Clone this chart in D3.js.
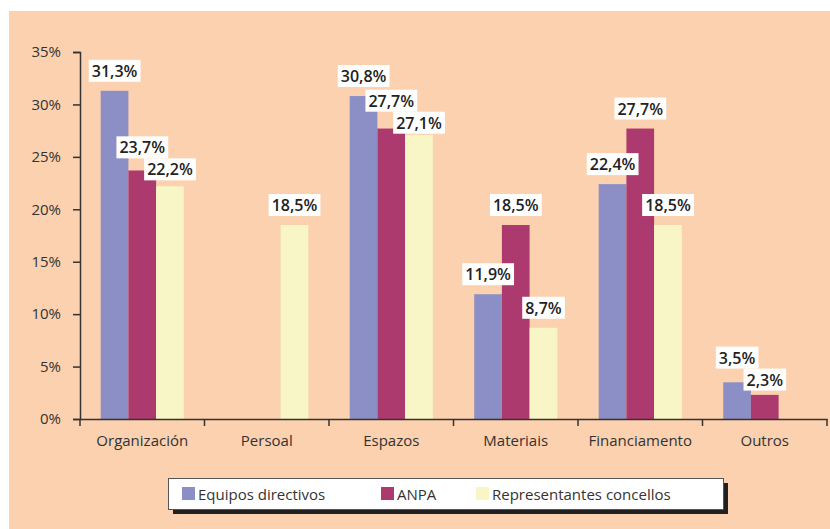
<html>
  <head>
    <meta charset="utf-8" />
    <script src="https://d3js.org/d3.v7.min.js"></script>
    <style>
      body { margin: 0; background: #fff; }
      text { font-family: "Open Sans", "Noto Sans", sans-serif; }
    </style>
  </head>
  <body>
    <svg width="830" height="529" id="chart"></svg>
    <script>
      // data
      const categories = ["Organización", "Persoal", "Espazos", "Materiais", "Financiamento", "Outros"];
      const seriesNames = ["Equipos directivos", "ANPA", "Representantes concellos"];
      const equipos = [31.3, null, 30.8, 11.9, 22.4, 3.5];
      const anpa = [23.7, null, 27.7, 18.5, 27.7, 2.3];
      const concellos = [22.2, 18.5, 27.1, 8.7, 18.5, null];
      const yTicks = [0, 5, 10, 15, 20, 25, 30, 35];
      const colors = ["#8c8fc5", "#ad3a6e", "#f8f5c7"];

      const series = [equipos, anpa, concellos];

      const svg = d3.select("svg#chart");

      // peach background
      svg.append("rect")
        .attr("x", 9).attr("y", 11)
        .attr("width", 821).attr("height", 518)
        .attr("fill", "#fbd1af");

      const plotLeft = 80, plotRight = 827, plotTop = 52, plotBottom = 419;

      const xScale = d3.scaleBand().domain(categories).range([plotLeft, plotRight]);
      const barW = 27.7;
      const xInner = d3.scaleBand()
        .domain(d3.range(series.length))
        .range([0, xScale.bandwidth()])
        .paddingInner(0)
        .paddingOuter((xScale.bandwidth() - 3 * barW) / 2 / barW);
      const yScale = d3.scaleLinear().domain([0, 35]).range([plotBottom, plotTop]);

      // bars
      const bars = [];
      series.forEach((vals, s) => {
        vals.forEach((v, i) => {
          if (v == null) return;
          bars.push({ s: s, cat: categories[i], v: v });
        });
      });

      svg.append("g")
        .selectAll("rect")
        .data(bars)
        .join("rect")
        .attr("x", (d) => xScale(d.cat) + xInner(d.s))
        .attr("y", (d) => yScale(d.v))
        .attr("width", xInner.bandwidth())
        .attr("height", (d) => yScale(0) - yScale(d.v))
        .attr("fill", (d) => colors[d.s]);

      // y axis
      const axisLeft = d3.axisLeft(yScale)
        .tickValues(yTicks)
        .tickSize(7)
        .tickPadding(12)
        .tickFormat((d) => d + "%");
      const gy = svg.append("g")
        .attr("transform", `translate(${plotLeft}, 0)`)
        .call(axisLeft);
      gy.select(".domain").attr("stroke", "#333").attr("stroke-width", 1.5);
      gy.selectAll(".tick line").attr("stroke", "#333").attr("stroke-width", 1.5);
      gy.selectAll(".tick text")
        .attr("font-size", 15)
        .attr("fill", "#333")
        .style("font-family", "'Open Sans', sans-serif");

      // x axis
      const axisBottom = d3.axisBottom(xScale).tickSize(0).tickPadding(16);
      const gx = svg.append("g")
        .attr("transform", `translate(0, ${plotBottom})`)
        .call(axisBottom);
      gx.select(".domain").attr("stroke", "#333").attr("stroke-width", 1.5);
      gx.selectAll(".tick text")
        .attr("font-size", 15)
        .attr("fill", "#333")
        .style("font-family", "'Open Sans', sans-serif");
      // boundary ticks
      const bounds = categories.map((c) => xScale(c)).concat([plotRight]);
      gx.selectAll("line.bound")
        .data(bounds)
        .join("line")
        .attr("class", "bound")
        .attr("x1", (d) => d).attr("x2", (d) => d)
        .attr("y1", 0).attr("y2", 7)
        .attr("stroke", "#333").attr("stroke-width", 1.5);

      // value labels, with a small vertical de-overlap per category
      const fmt = (v) => v.toFixed(1).replace(".", ",") + "%";
      const labelH = 22;
      const labels = bars.map((d) => ({
        d: d,
        text: fmt(d.v),
        cx: xScale(d.cat) + xInner(d.s) + xInner.bandwidth() / 2,
        cy: yScale(d.v) - 20
      }));
      categories.forEach((c) => {
        const group = labels.filter((l) => l.d.cat === c);
        for (let iter = 0; iter < 20; iter++) {
          for (let a = 0; a < group.length; a++) {
            for (let b = a + 1; b < group.length; b++) {
              const la = group[a], lb = group[b];
              const dy = lb.cy - la.cy;
              if (Math.abs(dy) < labelH) {
                const push = (labelH - Math.abs(dy)) / 2;
                const sgn = dy >= 0 ? 1 : -1;
                la.cy -= push * sgn;
                lb.cy += push * sgn;
              }
            }
          }
        }
      });

      const lg = svg.append("g");
      labels.forEach((l) => {
        const g = lg.append("g");
        const t = g.append("text")
          .attr("x", l.cx)
          .attr("y", l.cy)
          .attr("text-anchor", "middle")
          .attr("dominant-baseline", "central")
          .attr("font-size", 16)
          .attr("font-weight", 600)
          .attr("fill", "#222")
          .text(l.text);
        const bb = t.node().getBBox();
        g.insert("rect", "text")
          .attr("x", bb.x - 3)
          .attr("y", l.cy - labelH / 2)
          .attr("width", bb.width + 6)
          .attr("height", labelH)
          .attr("fill", "#fff");
      });

      // legend
      const legend = svg.append("g");
      legend.append("rect")
        .attr("x", 173).attr("y", 483)
        .attr("width", 555).attr("height", 31)
        .attr("fill", "#231f20");
      legend.append("rect")
        .attr("x", 168.5).attr("y", 478.5)
        .attr("width", 555).attr("height", 31)
        .attr("fill", "#fff")
        .attr("stroke", "#555");
      const legendX = [182, 381, 476];
      seriesNames.forEach((name, i) => {
        legend.append("rect")
          .attr("x", legendX[i]).attr("y", 487)
          .attr("width", 13).attr("height", 13)
          .attr("fill", colors[i]);
        legend.append("text")
          .attr("x", legendX[i] + 16)
          .attr("y", 494)
          .attr("dominant-baseline", "central")
          .attr("font-size", 15)
          .attr("fill", "#333")
          .text(name);
      });
    </script>
  </body>
</html>
